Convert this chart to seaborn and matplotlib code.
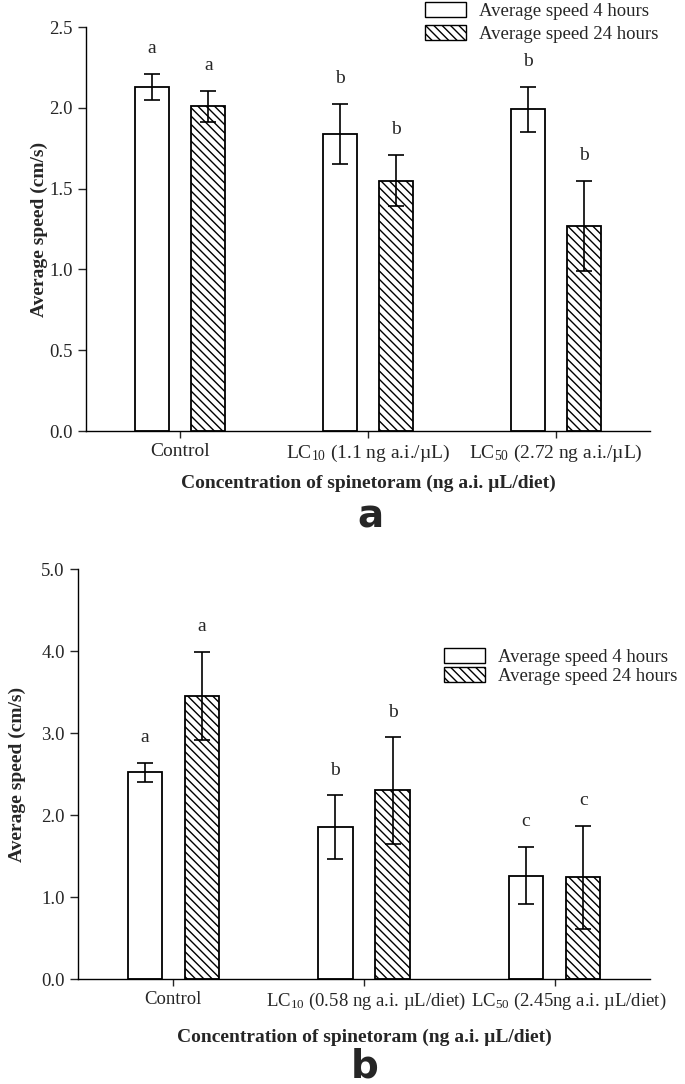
import numpy as np
import pandas as pd

import seaborn as sns
import matplotlib.pyplot as plt
import matplotlib.transforms as mtransforms
from matplotlib.patches import Patch

# panel a values
groups_a = ['Control', 'LC$_{10}$ (1.1 ng a.i./µL)', 'LC$_{50}$ (2.72 ng a.i./µL)']
speed4_a = [2.13, 1.84, 1.99]
err4_a = [0.08, 0.185, 0.14]
speed24_a = [2.01, 1.55, 1.27]
err24_a = [0.095, 0.16, 0.28]
letters4_a = ['a', 'b', 'b']
letters24_a = ['a', 'b', 'b']

# panel b values
groups_b = ['Control', 'LC$_{10}$ (0.58 ng a.i. µL/diet)', 'LC$_{50}$ (2.45ng a.i. µL/diet)']
speed4_b = [2.52, 1.85, 1.26]
err4_b = [0.12, 0.39, 0.35]
speed24_b = [3.45, 2.30, 1.24]
err24_b = [0.54, 0.65, 0.63]
letters4_b = ['a', 'b', 'c']
letters24_b = ['a', 'b', 'c']

series = ['Average speed 4 hours', 'Average speed 24 hours']
xlabel = 'Concentration of spinetoram (ng a.i. µL/diet)'
ylabel = 'Average speed (cm/s)'

sns.set_style('ticks')
plt.rcParams['font.family'] = ['Liberation Serif', 'DejaVu Serif']
plt.rcParams['mathtext.fontset'] = 'custom'
plt.rcParams['mathtext.rm'] = 'Liberation Serif'
plt.rcParams['mathtext.it'] = 'Liberation Serif:italic'
plt.rcParams['hatch.linewidth'] = 1.0

W, H = 685, 1084
fig = plt.figure(figsize=(W / 100, H / 100), dpi=100)

ax_a = fig.add_axes([86 / W, 1 - 431 / H, (650 - 86) / W, (431 - 27) / H])
ax_b = fig.add_axes([78 / W, 1 - 979 / H, (650 - 78) / W, (979 - 569) / H])

HATCH = '\\' * 4
FS = 14


def draw_panel(ax, groups, s4, e4, s24, e24, l4, l24, ymax, ystep, xfs):
    df = pd.DataFrame({
        'group': groups * 2,
        'time': [series[0]] * 3 + [series[1]] * 3,
        'speed': s4 + s24,
    })
    sns.barplot(data=df, x='group', y='speed', hue='time', hue_order=series,
                order=groups, palette=['white', 'white'], edgecolor='black',
                linewidth=1.3, width=0.6, gap=0.4, errorbar=None,
                legend=False, ax=ax)
    for bar in ax.containers[1]:
        bar.set_hatch(HATCH)

    for cont, vals, errs, lets in zip(ax.containers, [s4, s24], [e4, e24], [l4, l24]):
        xs = [b.get_x() + b.get_width() / 2 for b in cont]
        ax.errorbar(xs, vals, yerr=errs, fmt='none', ecolor='black',
                    elinewidth=1.2, capsize=5.5, capthick=1.2, zorder=5)
        for x, v, e, t in zip(xs, vals, errs, lets):
            ax.annotate(t, (x, v + e), xytext=(0, 18), textcoords='offset points',
                        ha='center', va='center', fontsize=FS)

    ax.set_xlim(-0.5, 2.5)
    ax.set_ylim(0, ymax)
    ax.set_yticks(np.arange(0, ymax + 0.001, ystep))
    ax.yaxis.set_major_formatter(plt.FormatStrFormatter('%.1f'))
    ax.tick_params(axis='y', labelsize=13.5, length=6, width=1, direction='out')
    ax.tick_params(axis='x', labelsize=xfs, length=5, width=1, direction='out')
    sns.despine(ax=ax)
    for sp in ['left', 'bottom']:
        ax.spines[sp].set_linewidth(1.0)
        ax.spines[sp].set_color('black')
    ax.set_ylabel(ylabel, fontsize=FS, fontweight='bold')


draw_panel(ax_a, groups_a, speed4_a, err4_a, speed24_a, err24_a,
           letters4_a, letters24_a, 2.5, 0.5, FS)
draw_panel(ax_b, groups_b, speed4_b, err4_b, speed24_b, err24_b,
           letters4_b, letters24_b, 5.0, 1.0, 13.5)

# the two long labels of panel b sit a little to the right of their ticks
for lab, dx in zip(ax_b.get_xticklabels(), [0, 2, 14]):
    lab.set_transform(lab.get_transform() +
                      mtransforms.ScaledTranslation(dx / 100, 0, fig.dpi_scale_trans))

ax_a.set_xlabel(xlabel, fontsize=FS, fontweight='bold', labelpad=8)
ax_b.set_xlabel(xlabel, fontsize=FS, fontweight='bold', labelpad=12)
ax_a.yaxis.set_label_coords(-(86 - 48) / 564, 0.5)
ax_b.yaxis.set_label_coords(-(78 - 26) / 572, 0.5)

handles = [Patch(facecolor='white', edgecolor='black', linewidth=1.0),
           Patch(facecolor='white', edgecolor='black', linewidth=1.0, hatch=HATCH)]
leg_kw = dict(frameon=False, fontsize=13.5, handlelength=2.2, handleheight=0.85,
              handletextpad=0.7, borderpad=0, borderaxespad=0, loc='upper left')
fig.legend(handles, series, bbox_to_anchor=(425 / W, 1 - 2 / H), labelspacing=0.25, **leg_kw)
fig.legend(handles, series, bbox_to_anchor=(444 / W, 1 - 648 / H), labelspacing=0.05, **leg_kw)

fig.text(370 / W, 1 - 527 / H, 'a', fontsize=28, fontweight='bold', family='DejaVu Sans',
         ha='center', va='baseline')
fig.text(365 / W, 1 - 1078 / H, 'b', fontsize=28, fontweight='bold', family='DejaVu Sans',
         ha='center', va='baseline')

plt.savefig('out.png', dpi=100)
